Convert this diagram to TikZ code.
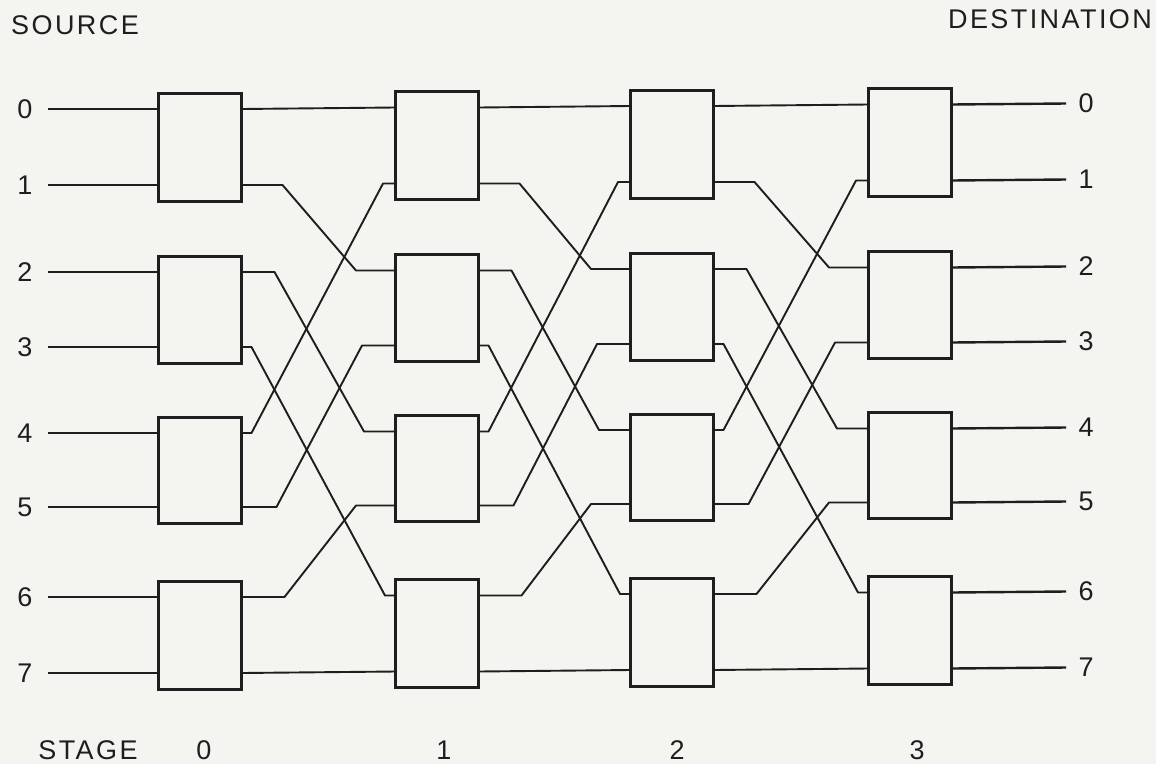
\documentclass[tikz,border=0pt]{standalone}
\usepackage{fontspec}
\setmainfont{Liberation Sans}[LetterSpace=9]
\usetikzlibrary{calc}
\definecolor{ink}{RGB}{30,30,30}
\definecolor{paper}{RGB}{244,244,240}
\begin{document}
\begin{tikzpicture}[x=1pt,y=-1pt,
  swbox/.style={draw=ink, line width=3pt, minimum width=83.5pt, inner sep=0pt},
  wire/.style={draw=ink, line width=2.4pt},
  link/.style={draw=ink, line width=1.9pt, line join=round},
  lbl/.style={font=\fontsize{27}{27}\selectfont, text=ink, inner sep=0pt}]
\fill[paper] (0,0) rectangle (1156,764);
\useasboundingbox (0,0) rectangle (1156,764);

% switch boxes and their ports
\foreach \s/\xl in {0/158,1/395,2/630,3/868} {
  \foreach \r in {0,...,7} {
    \pgfmathsetmacro\yy{{109,185,272,347,433,507,597,673}[\r]-1.5*\s}
    \coordinate (i-\s-\r) at (\xl,\yy);
    \coordinate (o-\s-\r) at (\xl+83.5,\yy);
  }
  \foreach \b in {0,...,3} {
    \pgfmathsetmacro\ya{{109,272,433,597}[\b]-1.5*\s-16}
    \pgfmathsetmacro\yb{{185,347,507,673}[\b]-1.5*\s+16}
    \pgfmathsetmacro\hh{\yb-\ya}
    \pgfmathsetmacro\yc{(\ya+\yb)/2}
    \node[swbox, minimum height=\hh pt] (sw-\s-\b) at (\xl+41.75,\yc) {};
  }
}

% perfect-shuffle links between stages
\foreach \s in {0,1,2} {
  \pgfmathtruncatemacro\t{\s+1}
  \foreach \r/\d/\a/\b in {0/0/0/0, 1/2/41/39, 2/4/33/31, 3/6/10/10, 4/1/10/12, 5/3/35/33, 6/5/43/39, 7/7/0/0} {
    \draw[link] (o-\s-\r) -- ++(\a,0) -- ($(i-\t-\d)+(-\b,0)$) -- (i-\t-\d);
  }
}

% source and destination lines with labels
\foreach \r in {0,...,7} {
  \pgfmathsetmacro\ys{{109,185,272,347,433,507,597,673}[\r]}
  \pgfmathsetmacro\yd{{109,185,272,347,433,507,597,673}[\r]-5.5}
  \node[lbl] (sl-\r) at (25,\ys) {\r};
  \coordinate (src-\r) at (48,\ys);
  \draw[wire] (src-\r) -- (i-0-\r);
  \node[lbl] (dl-\r) at (1086,\yd) {\r};
  \coordinate (dst-\r) at (1066,\yd);
  \draw[wire] (o-3-\r) -- (dst-\r);
}

% titles
\node[lbl] (source) at (75,25) {SOURCE};
\node[lbl] (dest) at (1050,19) {DESTINATION};
\node[lbl] (stage) at (88,750) {STAGE};
\node[lbl] (st0) at (204,750) {0};
\node[lbl] (st1) at (444,750) {1};
\node[lbl] (st2) at (677,750) {2};
\node[lbl] (st3) at (917,750) {3};
\end{tikzpicture}
\end{document}
